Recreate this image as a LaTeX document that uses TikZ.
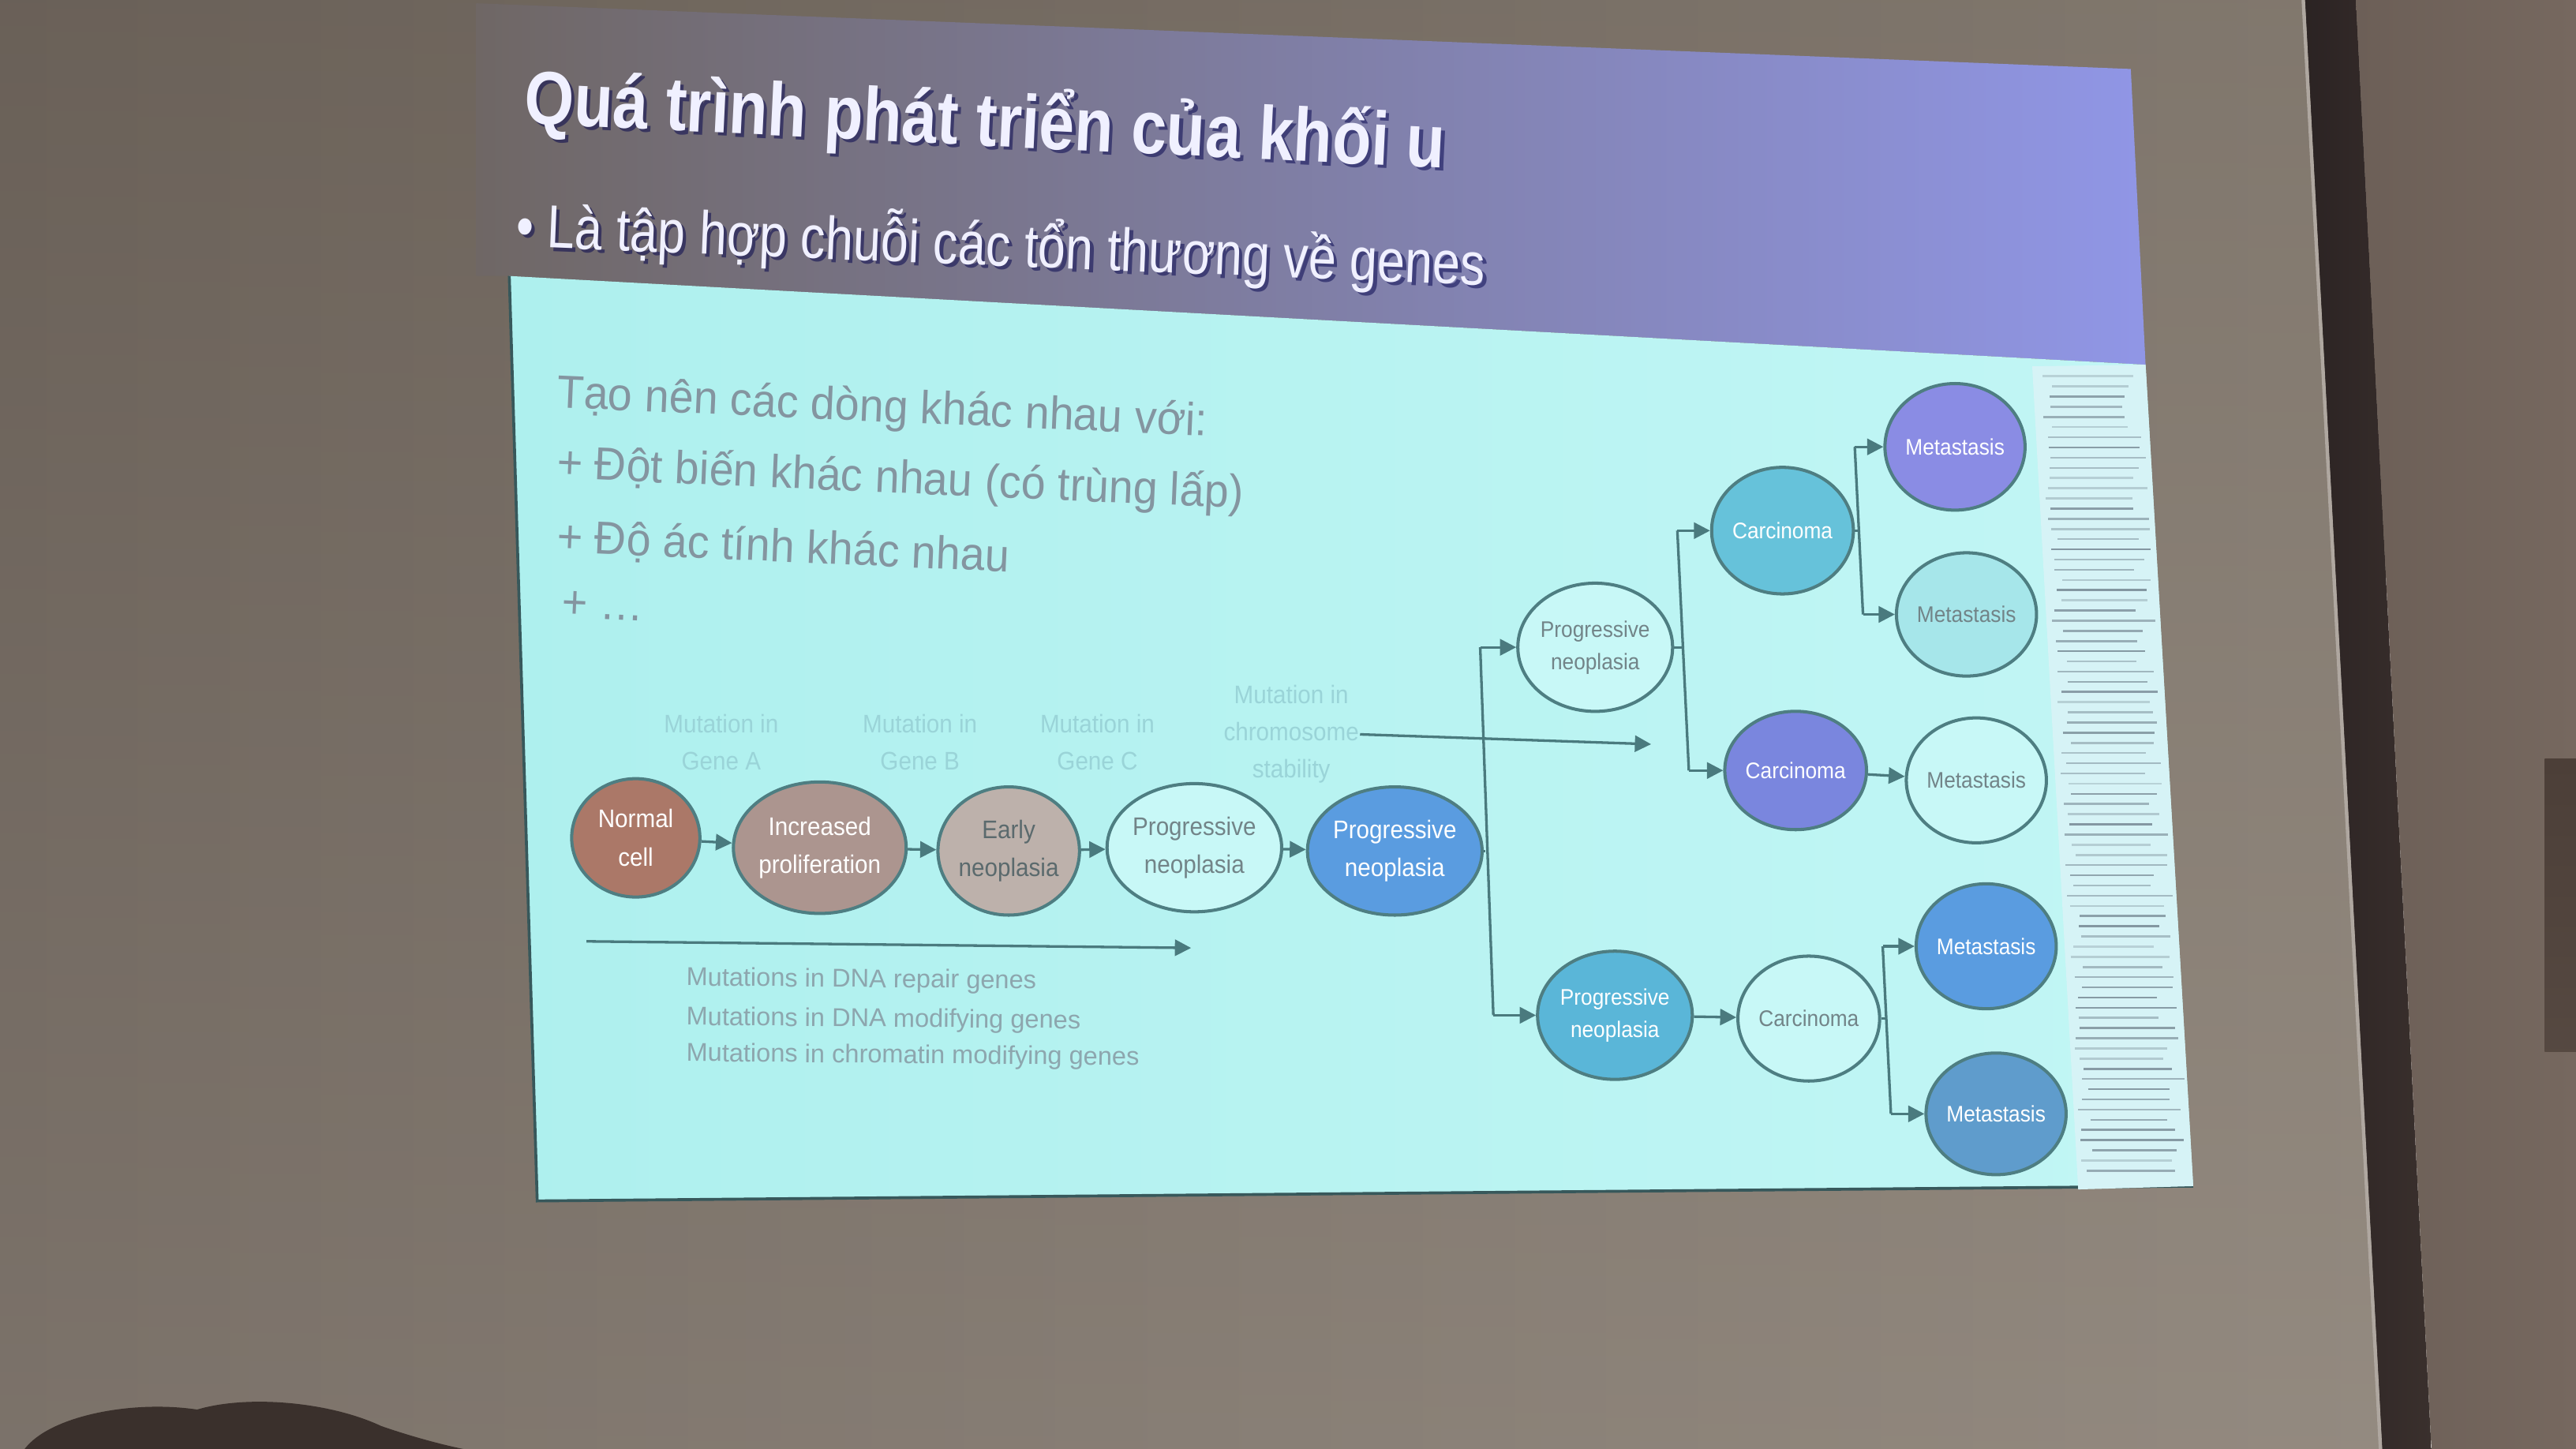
\documentclass[tikz,border=0pt]{standalone}
\usepackage{fontspec}
\setmainfont{Liberation Sans}
\newfontfamily\titlefont[FakeStretch=0.84]{Liberation Sans Bold}
\newfontfamily\subfont[FakeStretch=0.82]{Liberation Sans}
\newfontfamily\bodyfont[FakeStretch=0.95]{Liberation Sans}
\newfontfamily\cellfont[FakeStretch=0.92]{Liberation Sans}
\usetikzlibrary{shapes.geometric,arrows.meta}
\definecolor{wallL}{HTML}{72685F}
\definecolor{wallR}{HTML}{8C8277}
\definecolor{frameDark}{HTML}{2B2323}
\definecolor{frameDark2}{HTML}{3A302D}
\definecolor{wallRight}{HTML}{6C5F57}
\definecolor{wallRight2}{HTML}{76685F}
\definecolor{objDark}{HTML}{4C3F38}
\definecolor{headcol}{HTML}{3A302C}
\definecolor{bandL}{HTML}{6F6765}
\definecolor{bandM}{HTML}{6F7193}
\definecolor{bandR}{HTML}{9096E6}
\definecolor{panelL}{HTML}{AEF0EE}
\definecolor{panelR}{HTML}{C2F6F5}
\definecolor{stripfill}{HTML}{D6F3F6}
\definecolor{stripcol}{HTML}{6F808C}
\definecolor{bodytext}{HTML}{8495A0}
\definecolor{lblcol}{HTML}{9AD4D8}
\definecolor{bottext}{HTML}{8DA6AE}
\definecolor{cellline}{HTML}{4E7E82}
\definecolor{arrcol}{HTML}{4A7A7E}
\definecolor{graytext}{HTML}{728488}
\definecolor{cNormal}{HTML}{AB7868}
\definecolor{cIncr}{HTML}{AC958F}
\definecolor{cEarly}{HTML}{BDB1AB}
\definecolor{cPale}{HTML}{C8F8F7}
\definecolor{cBlue}{HTML}{5A9CE0}
\definecolor{cCyanBlue}{HTML}{5AB6D8}
\definecolor{cCarc}{HTML}{66C2DA}
\definecolor{cPurple}{HTML}{7A86DE}
\definecolor{cLav}{HTML}{8A8CE4}
\definecolor{cLtCyan}{HTML}{A6E6EA}
\definecolor{cSteel}{HTML}{5F9CCC}
\begin{document}
\begin{tikzpicture}[x=0.01cm,y=-0.01cm,
  cell/.style={ellipse, draw=cellline, line width=0.55pt, inner sep=0pt, align=center},
  cellbig/.style={cell, font=\cellfont\fontsize{4.4}{6.6}\selectfont},
  cellsmall/.style={cell, font=\cellfont\fontsize{3.9}{5.6}\selectfont},
  conn/.style={draw=arrcol, line width=0.45pt},
  arr/.style={conn, -{Triangle[length=2.8pt,width=2.8pt]}},
  lbl/.style={font=\cellfont\fontsize{4.4}{6.4}\selectfont, text=lblcol, align=center, inner sep=0pt},
  bot/.style={font=\fontsize{4.45}{6.5}\selectfont, text=bottext, anchor=base west, inner sep=0pt, rotate=-0.5},
  body/.style={font=\bodyfont\fontsize{8}{10}\selectfont, text=bodytext, anchor=base west, inner sep=0pt, rotate=-2.5}]
\useasboundingbox (0,0) rectangle (1568,882);
% wall / screen
\shade[left color=wallL, right color=wallR] (0,0) rectangle (1452,882);
\shade[top color=black, bottom color=white, opacity=0.07] (0,0) rectangle (1452,882);
% dark frame of the screen
\shade[left color=frameDark, right color=frameDark2] (1403,0) -- (1434,0) -- (1480,882) -- (1450,882) -- cycle;
\draw[color=wallR!70!white, line width=0.6pt] (1402,0) -- (1449,882);
\shade[left color=wallRight, right color=wallRight2] (1434,0) -- (1568,0) -- (1568,882) -- (1480,882) -- cycle;
\shade[top color=objDark, bottom color=objDark!70!wallRight] (1549,462) rectangle (1568,640);
% head in the foreground
\fill[headcol] (15,882) .. controls (30,862) and (80,852) .. (120,858)
  .. controls (150,849) and (200,853) .. (232,868) .. controls (252,875) and (272,880) .. (282,882) -- cycle;
% title band
\shade[left color=bandL, middle color=bandM, right color=bandR]
  (290,2) -- (1297,42) -- (1306,222) -- (310,168) -- (290,168) -- cycle;
% content panel
\shade[left color=panelL, right color=panelR] (310,168) -- (1306,222) -- (1335,722) -- (327,731) -- cycle;
\draw[color=cellline!70!black, line width=0.5pt] (310,168) -- (327,731) -- (1335,722);
% right strip of text lines
\fill[stripfill] (1237,223) -- (1306,222) -- (1335,722) -- (1265,724) -- cycle;
\pgfmathsetseed{42}
\foreach \i in {0,...,78}{
  \pgfmathsetmacro\yy{229+\i*6.2}
  \pgfmathsetmacro\xa{1241+(\yy-225)*0.052+8*rnd}
  \pgfmathsetmacro\xb{1303+(\yy-225)*0.062-14*rnd}
  \pgfmathsetmacro\op{0.25+0.55*rnd}
  \draw[color=stripcol, line width=0.35pt, opacity=\op] (\xa,\yy) -- (\xb,\yy);
}
% title and subtitle
\node[font=\titlefont\fontsize{13.1}{15}\selectfont, text=black!70!blue, opacity=0.5, anchor=base west, inner sep=0pt, rotate=-2.8] (titleshadow) at (320,77) {Quá trình phát triển của khối u};
\node[font=\titlefont\fontsize{13.1}{15}\selectfont, text=white!94!blue, anchor=base west, inner sep=0pt, rotate=-2.8] (title) at (318,75) {Quá trình phát triển của khối u};
\node[font=\subfont\fontsize{10.5}{12}\selectfont, text=black!70!blue, opacity=0.5, anchor=base west, inner sep=0pt, rotate=-2.3] (subshadow) at (315,152) {• Là tập hợp chuỗi các tổn thương về genes};
\node[font=\subfont\fontsize{10.5}{12}\selectfont, text=white!94!blue, anchor=base west, inner sep=0pt, rotate=-2.3] (subtitle) at (313,150) {• Là tập hợp chuỗi các tổn thương về genes};
% panel text
\node[body] (t1) at (338,248) {Tạo nên các dòng khác nhau với:};
\node[body] (t2) at (338,291) {+ Đột biến khác nhau (có trùng lấp)};
\node[body] (t3) at (338,336) {+ Độ ác tính khác nhau};
\node[body] (t4) at (341,376) {+ …};
% mutation labels
\node[lbl] (la) at (439,452) {Mutation in\\Gene A};
\node[lbl] (lb) at (560,452) {Mutation in\\Gene B};
\node[lbl] (lc) at (668,452) {Mutation in\\Gene C};
\node[lbl] (ld) at (786,447) {Mutation in\\chromosome\\stability};
% main chain
\node[cellbig, fill=cNormal, text=white, minimum width=0.78cm, minimum height=0.72cm] (nc) at (387,510) {Normal\\cell};
\node[cellbig, fill=cIncr, text=white, minimum width=1.0cm, minimum height=0.80cm] (ip) at (499,516) {Increased\\proliferation};
\node[cellbig, fill=cEarly, text=graytext!80!black, minimum width=0.82cm, minimum height=0.78cm] (en) at (614,518) {Early\\neoplasia};
\node[cellbig, fill=cPale, text=graytext, minimum width=0.94cm, minimum height=0.78cm] (pnw) at (727,516) {Progressive\\neoplasia};
\node[cellbig, fill=cBlue, text=white, minimum width=0.94cm, minimum height=0.78cm] (pnb) at (849,518) {Progressive\\neoplasia};
% branches
\node[cellsmall, fill=cPale, text=graytext, minimum width=0.90cm, minimum height=0.78cm] (pnu) at (971,394) {Progressive\\neoplasia};
\node[cellsmall, fill=cCyanBlue, text=white, minimum width=0.90cm, minimum height=0.78cm] (pnl) at (983,618) {Progressive\\neoplasia};
\node[cellsmall, fill=cCarc, text=white, minimum width=0.78cm, minimum height=0.77cm] (ca1) at (1085,323) {Carcinoma};
\node[cellsmall, fill=cPurple, text=white, minimum width=0.78cm, minimum height=0.72cm] (ca2) at (1093,469) {Carcinoma};
\node[cellsmall, fill=cPale, text=graytext, minimum width=0.80cm, minimum height=0.76cm] (ca3) at (1101,620) {Carcinoma};
\node[cellsmall, fill=cLav, text=white, minimum width=0.76cm, minimum height=0.77cm] (m1) at (1190,272) {Metastasis};
\node[cellsmall, fill=cLtCyan, text=graytext, minimum width=0.78cm, minimum height=0.75cm] (m2) at (1197,374) {Metastasis};
\node[cellsmall, fill=cPale, text=graytext, minimum width=0.78cm, minimum height=0.76cm] (m3) at (1203,475) {Metastasis};
\node[cellsmall, fill=cBlue, text=white, minimum width=0.78cm, minimum height=0.76cm] (m4) at (1209,576) {Metastasis};
\node[cellsmall, fill=cSteel, text=white, minimum width=0.78cm, minimum height=0.74cm] (m5) at (1215,678) {Metastasis};
% main arrows
\draw[arr] (nc) -- (ip);
\draw[arr] (ip) -- (en);
\draw[arr] (en) -- (pnw);
\draw[arr] (pnw) -- (pnb);
% long arrows
\coordinate (ldend) at (1005,453);
\draw[arr] (ld.east) -- (ldend);
\coordinate (bstart) at (357,573);
\coordinate (bend) at (725,577);
\draw[arr] (bstart) -- (bend);
% tree junctions
\coordinate (j1m) at (904,518);
\coordinate (j1t) at (901,394);
\coordinate (j1b) at (909,618);
\draw[conn] (pnb.east) -- (j1m);
\draw[conn] (j1t) -- (j1b);
\draw[arr] (j1t) -- (pnu.west);
\draw[arr] (j1b) -- (pnl.west);
\coordinate (j2m) at (1024,394);
\coordinate (j2t) at (1021,323);
\coordinate (j2b) at (1028,469);
\draw[conn] (pnu.east) -- (j2m);
\draw[conn] (j2t) -- (j2b);
\draw[arr] (j2t) -- (ca1.west);
\draw[arr] (j2b) -- (ca2.west);
\coordinate (j3m) at (1131,323);
\coordinate (j3t) at (1129,272);
\coordinate (j3b) at (1134,374);
\draw[conn] (ca1.east) -- (j3m);
\draw[conn] (j3t) -- (j3b);
\draw[arr] (j3t) -- (m1.west);
\draw[arr] (j3b) -- (m2.west);
\draw[arr] (ca2) -- (m3);
\draw[arr] (pnl) -- (ca3);
\coordinate (j4m) at (1148,620);
\coordinate (j4t) at (1146,576);
\coordinate (j4b) at (1151,678);
\draw[conn] (ca3.east) -- (j4m);
\draw[conn] (j4t) -- (j4b);
\draw[arr] (j4t) -- (m4.west);
\draw[arr] (j4b) -- (m5.west);
% bottom texts
\node[bot] (b1) at (417,600) {Mutations in DNA repair genes};
\node[bot] (b2) at (417,624) {Mutations in DNA modifying genes};
\node[bot] (b3) at (417,646) {Mutations in chromatin modifying genes};
\end{tikzpicture}
\end{document}
